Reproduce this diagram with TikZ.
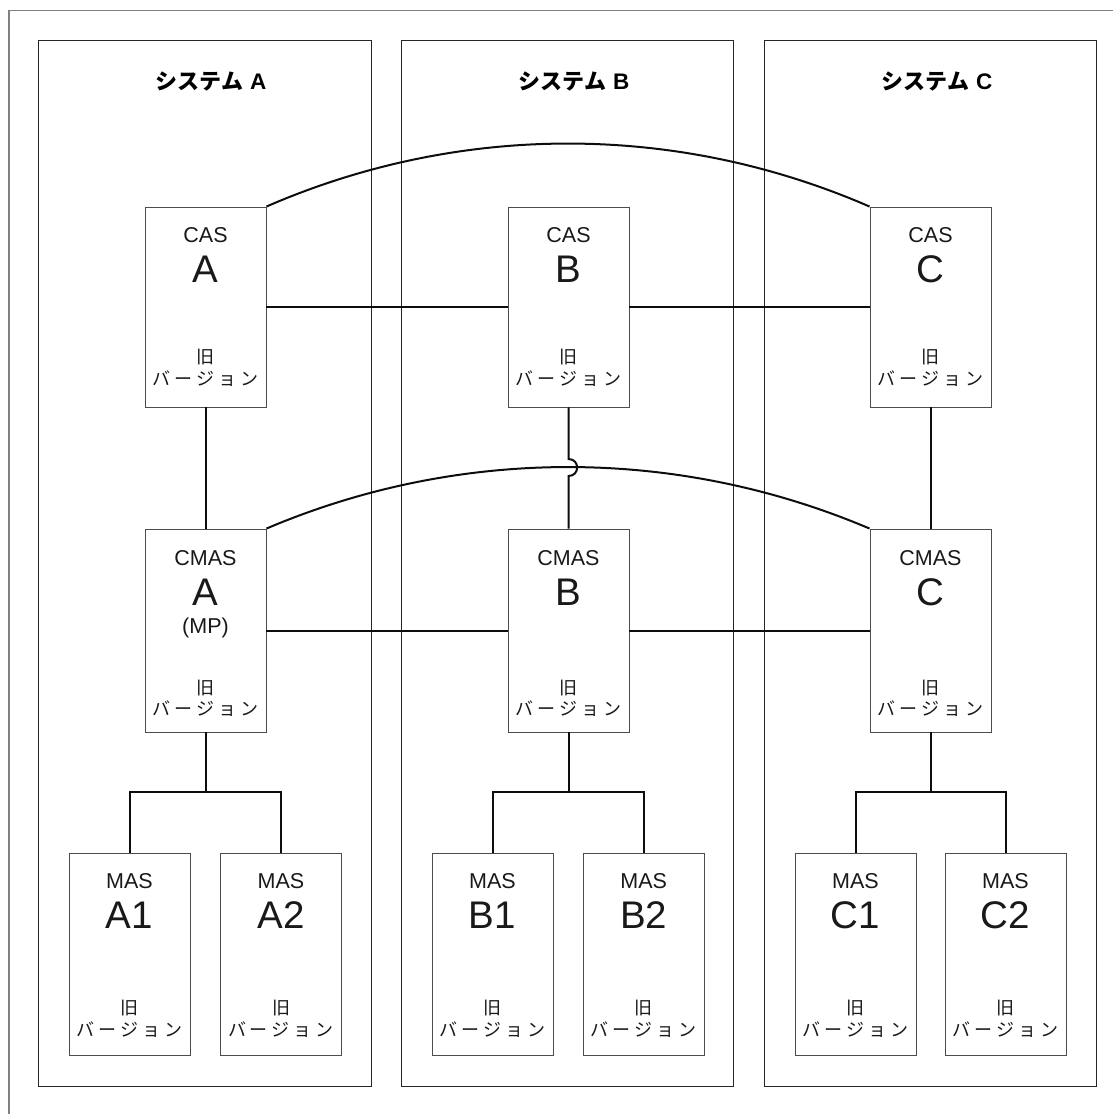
\documentclass[tikz,border=0pt]{standalone}
\usepackage{fontspec}
\setmainfont{Liberation Sans}
\newfontfamily\jp{Noto Sans CJK JP}
\newfontfamily\latb{Liberation Sans Bold}
\newcommand\verjp{バ\kern4pt ー\kern4pt ジ\kern4pt ョ\kern4pt ン}
\tikzset{
  panel/.style={draw=black!85, line width=0.9pt},
  frame/.style={draw=black!50, line width=1.8pt},
  srv/.style={draw=black!70, line width=0.9pt, rectangle, minimum width=121pt, inner sep=0pt, fill=white},
  link/.style={draw=black!95, line width=2pt},
  small/.style={anchor=base, inner sep=0pt, font=\fontsize{21.5}{22}\selectfont, text=black!90},
  big/.style={anchor=base, inner sep=0pt, font=\fontsize{38.5}{39}\selectfont, text=black!90},
  jpt/.style={anchor=base, inner sep=0pt, font=\jp\fontsize{18}{18}\selectfont, text=black!90},
  head/.style={anchor=base, inner sep=0pt, text=black},
}
\newcommand\hd[1]{{\jp\bfseries\fontsize{22}{22}\selectfont システム}\kern7pt{\latb\fontsize{22.5}{23}\selectfont #1}}
% box macros: #1 name, #2 x centre, #3 small label, #4 big label
\newcommand\casbox[4]{%
  \node[srv, minimum height=200pt] (#1) at (#2,307) {};
  \node[small] (#1-a) at (#2,242) {#3};
  \node[big] (#1-b) at (#2,282) {#4};
  \node[jpt] (#1-c) at (#2,363) {旧};
  \node[jpt] (#1-d) at (#2,385) {\verjp};
}
\newcommand\cmasbox[4]{%
  \node[srv, minimum height=203pt] (#1) at (#2,630.5) {};
  \node[small] (#1-a) at (#2,565) {#3};
  \node[big] (#1-b) at (#2,605) {#4};
  \node[jpt] (#1-c) at (#2,694) {旧};
  \node[jpt] (#1-d) at (#2,715) {\verjp};
}
\newcommand\masbox[4]{%
  \node[srv, minimum height=202pt] (#1) at (#2,954) {};
  \node[small] (#1-a) at (#2,888) {#3};
  \node[big] (#1-b) at (#2,928) {#4};
  \node[jpt] (#1-c) at (#2,1014) {旧};
  \node[jpt] (#1-d) at (#2,1036) {\verjp};
}
\begin{document}
\begin{tikzpicture}[x=1pt, y=-1pt]
\useasboundingbox (0,0) rectangle (1113,1114);
% outer frame (only top and left edges are visible)
\draw[frame] (9,1114) -- (9,10.5) -- (1113,10.5);
% panels
\draw[panel] (38.5,40.5) rectangle (371,1086);
\draw[panel] (401,40.5) rectangle (733,1086);
\draw[panel] (764,40.5) rectangle (1096,1086);
\node[head] (hA) at (211,89.5) {\hd{A}};
\node[head] (hB) at (574,89.5) {\hd{B}};
\node[head] (hC) at (937,89.5) {\hd{C}};
% servers
\casbox{casA}{205.5}{CAS}{A}
\casbox{casB}{568.5}{CAS}{B}
\casbox{casC}{930.5}{CAS}{C}
\cmasbox{cmasA}{205.5}{CMAS}{A}
\node[small] (cmasA-mp) at (205.5,633) {(MP)};
\cmasbox{cmasB}{568.5}{CMAS}{B}
\cmasbox{cmasC}{930.5}{CMAS}{C}
\masbox{masA1}{129.5}{MAS}{A1}
\masbox{masA2}{281}{MAS}{A2}
\masbox{masB1}{492.5}{MAS}{B1}
\masbox{masB2}{643.7}{MAS}{B2}
\masbox{masC1}{855.5}{MAS}{C1}
\masbox{masC2}{1005.5}{MAS}{C2}
% junction points
\coordinate (jA) at (205.5,792);
\coordinate (jB) at (568.5,792);
\coordinate (jC) at (930.5,792);
\coordinate (hop1) at (568.5,459);
\coordinate (hop2) at (568.5,476);
% connectors
\draw[link] (casA.east) -- (casB.west);
\draw[link] (casB.east) -- (casC.west);
\draw[link] (cmasA.east) -- (cmasB.west);
\draw[link] (cmasB.east) -- (cmasC.west);
\draw[link] (casA.south) -- (cmasA.north);
\draw[link] (casC.south) -- (cmasC.north);
\draw[link] (casA.north east) .. controls +(193,-84) and +(-193,-84) .. (casC.north west);
\draw[link] (cmasA.north east) .. controls +(193,-82) and +(-193,-82) .. (cmasC.north west);
\draw[link] (casB.south) -- (hop1) .. controls +(11.5,0) and +(11.5,0) .. (hop2) -- (cmasB.north);
\draw[link] (cmasA.south) -- (jA);
\draw[link] (masA1.north) |- (jA) -| (masA2.north);
\draw[link] (cmasB.south) -- (jB);
\draw[link] (masB1.north) |- (jB) -| (masB2.north);
\draw[link] (cmasC.south) -- (jC);
\draw[link] (masC1.north) |- (jC) -| (masC2.north);
\end{tikzpicture}
\end{document}
